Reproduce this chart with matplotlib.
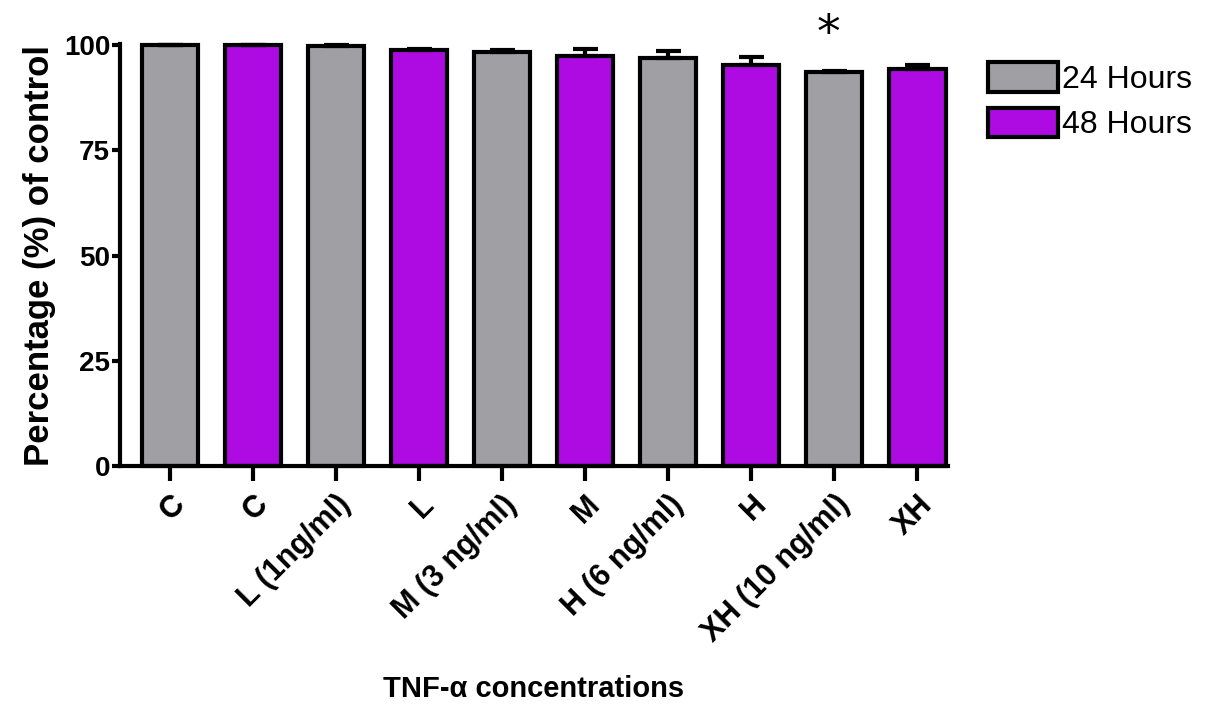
import matplotlib
matplotlib.use("Agg")
import matplotlib.pyplot as plt
import matplotlib.patches as mpatches
import numpy as np

# data
labels = ["C", "C", "L (1ng/ml)", "L", "M (3 ng/ml)", "M",
          "H (6 ng/ml)", "H", "XH (10 ng/ml)", "XH"]
groups = ["24", "48", "24", "48", "24", "48", "24", "48", "24", "48"]
values = [100.0, 100.0, 99.9, 98.8, 98.4, 97.4, 96.9, 95.4, 93.6, 94.3]
errors = [0.0, 0.0, 0.1, 0.4, 0.4, 1.7, 1.8, 1.8, 0.3, 1.0]
star_bar = 8
star_y = 102.5

colors = {"24": "#A09FA4", "48": "#AD0BE2"}
names = {"24": "24 Hours", "48": "48 Hours"}

plt.rcParams['font.family'] = ['Liberation Sans', 'DejaVu Sans']

fig = plt.figure(figsize=(12.08, 7.06), dpi=100)
ax = fig.add_axes([0.0993, 0.340, 0.6855, 0.596])

x = np.arange(len(values))
ax.bar(x, values, width=0.68, color=[colors[g] for g in groups],
       edgecolor="black", linewidth=3, clip_on=False, zorder=2)
ax.errorbar(x, values, yerr=[np.zeros(len(errors)), errors], fmt="none",
            ecolor="black", elinewidth=3, capsize=9, capthick=3,
            clip_on=False, zorder=3)

ax.text(x[star_bar] - 0.07, star_y, "*", ha="center", va="center",
        fontsize=34, family="DejaVu Sans")

ax.set_xlim(-0.6, 9.37)
ax.set_ylim(0, 100)
ax.set_yticks([0, 25, 50, 75, 100])
ax.set_xticks(x)
ax.set_xticklabels(labels, rotation=45, ha="right", rotation_mode="anchor",
                   fontsize=22, fontweight="bold")
for t in ax.get_yticklabels():
    t.set_fontsize(20)
    t.set_fontweight("bold")

for s in ["top", "right"]:
    ax.spines[s].set_visible(False)
for s in ["left", "bottom"]:
    ax.spines[s].set_linewidth(3)
ax.spines["left"].set_bounds(0, 100.3)
ax.tick_params(axis="y", length=6, width=3, pad=1)
ax.tick_params(axis="x", length=11, width=3, pad=6)

ax.set_ylabel("Percentage (%) of control", fontsize=25, fontweight="bold",
              labelpad=6)
ax.set_xlabel("TNF-α concentrations", fontsize=21,
              fontweight="bold", labelpad=19)

handles = [mpatches.Patch(facecolor=colors[g], edgecolor="black",
                          linewidth=3, label=names[g]) for g in ["24", "48"]]
ax.legend(handles=handles, loc="upper left", bbox_to_anchor=(1.033, 0.99),
          frameon=False, fontsize=23, handlelength=2.2, handleheight=1.05,
          handletextpad=0.1, labelspacing=0.4, borderaxespad=0)

fig.savefig("out.png", dpi=100)
